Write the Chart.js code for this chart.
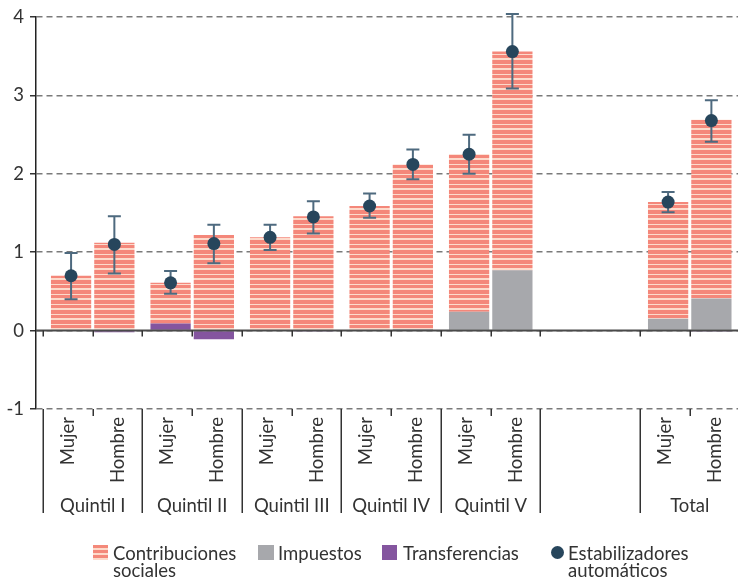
<!DOCTYPE html>
<html>
<head>
<meta charset="utf-8">
<script src="https://cdn.jsdelivr.net/npm/chart.js@4/dist/chart.umd.min.js"></script>
<style>
  html, body { margin: 0; padding: 0; background: #fff; overflow: hidden; width: 738px; height: 581px; }
  #wrap { position: absolute; left: 0; top: 0; width: 746px; height: 530px; }
  #legend { position: absolute; left: 0; top: 0; width: 738px; height: 581px; pointer-events: none;
            font-family: 'Lato', sans-serif; font-size: 18.5px; line-height: 17px; color: #333; }
  .sw { position: absolute; width: 15px; height: 15px; }
  .lt { position: absolute; white-space: nowrap; }
  .stripes { background: repeating-linear-gradient(to bottom, #F4897A 0px, #F4897A 3px, #FDDBCB 3px, #FDDBCB 5px); }
</style>
</head>
<body>
<div id="wrap"><canvas id="c" width="746" height="530"></canvas></div>
<div id="legend">
  <span class="sw stripes" style="left:93px;top:545px;"></span>
  <div class="lt" style="left:113px;top:545px;">Contribuciones<br>sociales</div>
  <span class="sw" style="left:258px;top:545px;width:16px;background:#A7A8AC;"></span>
  <div class="lt" style="left:278px;top:545px;">Impuestos</div>
  <span class="sw" style="left:382px;top:545px;background:#84559F;"></span>
  <div class="lt" style="left:403px;top:545px;">Transferencias</div>
  <span class="sw" style="left:551px;top:546px;width:13px;height:13px;border-radius:50%;background:#27465C;"></span>
  <div class="lt" style="left:568px;top:545px;">Estabilizadores<br>automáticos</div>
</div>
<script>
// ---- Data ----
const groupLabels = ['Quintil I', 'Quintil II', 'Quintil III', 'Quintil IV', 'Quintil V', '', 'Total'];
const sexLabels = ['Mujer', 'Hombre'];

const contribMujer   = [0.69, 0.52, 1.18, 1.58, 2.01, null, 1.49];
const contribHombre  = [1.12, 1.22, 1.46, 2.10, 2.79, null, 2.28];
const impuestosMujer = [0, 0, 0, 0, 0.24, null, 0.14];
const impuestosHombre= [0, 0, 0, 0.02, 0.77, null, 0.41];
const transferMujer  = [0.01, 0.09, 0.01, 0.01, 0, null, 0.01];
const transferHombre = [-0.02, -0.11, -0.01, 0, 0, null, -0.01];

const estabMujer      = [0.70, 0.61, 1.19, 1.59, 2.25, null, 1.64];
const estabHombre     = [1.10, 1.11, 1.45, 2.12, 3.56, null, 2.68];
const estabMujerLow   = [0.40, 0.47, 1.03, 1.44, 2.00, null, 1.51];
const estabMujerHigh  = [0.99, 0.76, 1.35, 1.75, 2.50, null, 1.77];
const estabHombreLow  = [0.73, 0.86, 1.24, 1.93, 3.09, null, 2.41];
const estabHombreHigh = [1.46, 1.35, 1.65, 2.31, 4.04, null, 2.94];

const yTicks = [-1, 0, 1, 2, 3, 4];

// ---- Style ----
const SALMON = '#F4877A', LIGHT = '#FDDACB', GRAY = '#A7A8AC', PURPLE = '#84559F';
const NAVY = '#27465C', ERR = '#4E6A7F', TEXT = '#333333';
const FONT = { family: "'Lato', sans-serif", size: 18.5 };
const CAT_PCT = 0.87, BAR_PCT = 0.93;

const canvas = document.getElementById('c');
const ctx = canvas.getContext('2d');
function stripePattern() {
  const c = document.createElement('canvas');
  c.width = 8; c.height = 10;
  const g = c.getContext('2d');
  g.fillStyle = LIGHT; g.fillRect(0, 0, 8, 10);
  g.fillStyle = SALMON; g.fillRect(0, 0, 8, 4); g.fillRect(0, 5, 8, 3);
  return ctx.createPattern(c, 'repeat');
}
const STRIPES = stripePattern();

const hasGroup = groupLabels.map((g, i) => estabMujer[i] !== null);
const pts = (arr, shift) => arr.map((v, i) => ({ x: i + shift, y: v }));

function barDs(label, arr, stack, color) {
  return { type: 'bar', label, data: pts(arr, 0), stack, backgroundColor: color,
           xAxisID: 'x', yAxisID: 'y', order: 1, borderWidth: 0,
           categoryPercentage: CAT_PCT, barPercentage: BAR_PCT };
}
function pointDs(label, arr, shift, stack, low, high) {
  return { type: 'scatter', label, data: pts(arr, shift), stack, errLow: low, errHigh: high,
           xAxisID: 'x', yAxisID: 'y', order: 0, clip: false,
           pointRadius: 6.5, pointHoverRadius: 6.5, pointBorderWidth: 0,
           backgroundColor: NAVY, borderColor: NAVY };
}
const OFF = CAT_PCT / 4;

const datasets = [
  pointDs('Estabilizadores automáticos (Mujer)', estabMujer, -OFF, 'pM', estabMujerLow, estabMujerHigh),
  pointDs('Estabilizadores automáticos (Hombre)', estabHombre, OFF, 'pH', estabHombreLow, estabHombreHigh),
  barDs('Transferencias (Mujer)', transferMujer, 'M', PURPLE),
  barDs('Impuestos (Mujer)', impuestosMujer, 'M', GRAY),
  barDs('Contribuciones sociales (Mujer)', contribMujer, 'M', STRIPES),
  barDs('Transferencias (Hombre)', transferHombre, 'H', PURPLE),
  barDs('Impuestos (Hombre)', impuestosHombre, 'H', GRAY),
  barDs('Contribuciones sociales (Hombre)', contribHombre, 'H', STRIPES),
];

// slot label ticks (Mujer / Hombre per group)
const slotTicks = [], slotNames = [];
groupLabels.forEach((g, i) => {
  if (!hasGroup[i]) return;
  slotTicks.push(i - 0.25); slotNames.push(sexLabels[0]);
  slotTicks.push(i + 0.25); slotNames.push(sexLabels[1]);
});

const X_MIN = -0.57, X_MAX = 6.5;

const decor = {
  id: 'decor',
  beforeDatasetDraw(chart, args) {
    const ds = chart.data.datasets[args.index];
    if (!ds.errLow) return;
    const y = chart.scales.y, c = chart.ctx;
    c.save();
    c.strokeStyle = ERR; c.lineWidth = 2;
    args.meta.data.forEach((el, j) => {
      if (ds.errLow[j] === null) return;
      const yl = y.getPixelForValue(ds.errLow[j]);
      const yh = y.getPixelForValue(ds.errHigh[j]);
      c.beginPath();
      c.moveTo(el.x, yl); c.lineTo(el.x, yh);
      c.moveTo(el.x - 6.5, yl); c.lineTo(el.x + 6.5, yl);
      c.moveTo(el.x - 6.5, yh); c.lineTo(el.x + 6.5, yh);
      c.stroke();
    });
    c.restore();
  },
  afterDatasetsDraw(chart) {
    const x = chart.scales.x, y = chart.scales.y, c = chart.ctx, a = chart.chartArea;
    const y0 = y.getPixelForValue(0), ym1 = y.getPixelForValue(-1);
    c.save();
    // zero line
    c.strokeStyle = '#4a4a4a'; c.lineWidth = 2;
    c.beginPath(); c.moveTo(a.left, y0); c.lineTo(a.right, y0); c.stroke();
    c.strokeStyle = TEXT; c.lineWidth = 1.5;
    c.beginPath();
    groupLabels.forEach((g, i) => {
      // group separators
      const xb = Math.round(x.getPixelForValue(i - 0.5)) + 0.25;
      c.moveTo(xb, ym1); c.lineTo(xb, ym1 + 104);
      if (i === groupLabels.length - 1) {
        const xe = Math.round(x.getPixelForValue(i + 0.5)) + 0.25;
        c.moveTo(xe, ym1); c.lineTo(xe, ym1 + 104);
      }
      if (!hasGroup[i]) return;
      [i - 0.5, i, i + 0.5].forEach(v => {
        const px = Math.round(x.getPixelForValue(v)) + 0.25;
        c.moveTo(px, y0); c.lineTo(px, y0 + 6);
      });
      const pm = Math.round(x.getPixelForValue(i)) + 0.25;
      c.moveTo(pm, ym1); c.lineTo(pm, ym1 + 7);
    });
    c.stroke();
    c.restore();
  }
};

new Chart(ctx, {
  type: 'bar',
  data: { datasets },
  plugins: [decor],
  options: {
    responsive: false,
    animation: false,
    devicePixelRatio: 1,
    events: [],
    layout: { padding: { top: 15, right: 2, left: 0, bottom: 0 } },
    plugins: { legend: { display: false }, tooltip: { enabled: false } },
    scales: {
      y: {
        type: 'linear', position: 'left', min: -1, max: 4, stacked: true,
        afterBuildTicks: s => { s.ticks = yTicks.map(v => ({ value: v })); },
        afterFit: s => { s.width = 36; },
        ticks: { font: FONT, color: TEXT, padding: 6 },
        grid: {
          color: '#7a7a7a', lineWidth: 1.5, drawTicks: true, tickLength: 6,
          tickColor: TEXT, tickWidth: 1.5, tickBorderDash: []
        },
        border: {
          display: true, color: '#222', width: 1.5,
          dash: c => (c.type === 'tick' ? [6, 4] : [])
        }
      },
      xl: {
        type: 'linear', position: 'bottom', min: X_MIN, max: X_MAX, weight: 0, offset: false,
        afterBuildTicks: s => { s.ticks = slotTicks.map(v => ({ value: v })); },
        afterFit: s => { s.height = 80; },
        ticks: {
          font: FONT, color: TEXT, padding: 8, autoSkip: false,
          minRotation: 90, maxRotation: 90,
          callback: (v, i) => slotNames[i]
        },
        grid: { display: false, drawTicks: false },
        border: { display: false }
      },
      x: {
        type: 'linear', position: 'bottom', min: X_MIN, max: X_MAX, weight: 1, offset: false,
        stacked: true, bounds: 'data',
        afterBuildTicks: s => { s.ticks = groupLabels.map((g, i) => ({ value: i })); },
        afterFit: s => { s.height = 41; },
        ticks: {
          font: FONT, color: TEXT, padding: 6, autoSkip: false,
          minRotation: 0, maxRotation: 0,
          callback: (v, i) => groupLabels[i]
        },
        grid: { display: false, drawTicks: false },
        border: { display: false }
      }
    }
  }
});
</script>
</body>
</html>
